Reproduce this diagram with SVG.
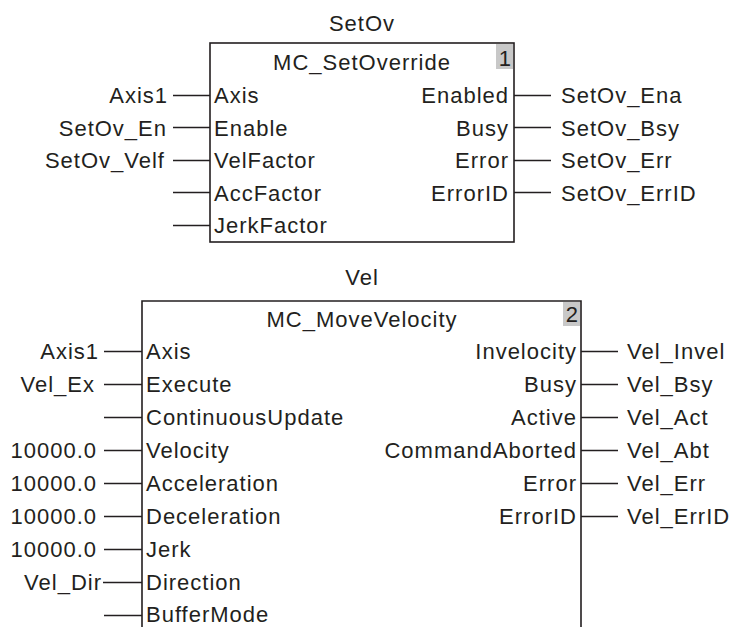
<svg xmlns="http://www.w3.org/2000/svg" width="729" height="627" viewBox="0 0 729 627">
<style>
text{font-family:"Liberation Sans",Arial,sans-serif;font-size:22px;fill:#231f20;letter-spacing:1px}
.m{text-anchor:middle}
.e{text-anchor:end}
.box{fill:#fff;stroke:#231f20;stroke-width:1.6}
.num{fill:#c8c8c8}
.w{stroke:#231f20;stroke-width:1.4;fill:none}
</style>
<rect width="729" height="627" fill="#fff"/>
<g id="node-setov">
<rect class="box" x="210" y="43" width="304" height="199"/>
<rect class="num" x="496" y="44" width="17" height="25"/>
<text class="e" x="512" y="66">1</text>
<text class="m" x="362" y="31">SetOv</text>
<text class="m" x="362" y="70">MC_SetOverride</text>
<text x="214" y="103">Axis</text>
<text x="214" y="136">Enable</text>
<text x="214" y="168">VelFactor</text>
<text x="214" y="201">AccFactor</text>
<text x="214" y="233">JerkFactor</text>
<text class="e" x="509" y="103">Enabled</text>
<text class="e" x="509" y="136">Busy</text>
<text class="e" x="509" y="168">Error</text>
<text class="e" x="509" y="201">ErrorID</text>
<text class="e" x="168" y="103">Axis1</text>
<text class="e" x="167" y="136">SetOv_En</text>
<text class="e" x="165" y="168">SetOv_Velf</text>
<text x="561" y="103">SetOv_Ena</text>
<text x="561" y="136">SetOv_Bsy</text>
<text x="561" y="168">SetOv_Err</text>
<text x="561" y="201">SetOv_ErrID</text>
</g>
<g id="node-vel">
<path class="box" d="M142,630 V301 H581 V630"/>
<rect class="num" x="563" y="302" width="17" height="24"/>
<text class="e" x="579" y="322">2</text>
<text class="m" x="362" y="285">Vel</text>
<text class="m" x="362" y="327">MC_MoveVelocity</text>
<text x="146" y="359">Axis</text>
<text x="146" y="392">Execute</text>
<text x="146" y="425">ContinuousUpdate</text>
<text x="146" y="458">Velocity</text>
<text x="146" y="491">Acceleration</text>
<text x="146" y="524">Deceleration</text>
<text x="146" y="557">Jerk</text>
<text x="146" y="590">Direction</text>
<text x="146" y="622">BufferMode</text>
<text class="e" x="577" y="359">Invelocity</text>
<text class="e" x="577" y="392">Busy</text>
<text class="e" x="577" y="425">Active</text>
<text class="e" x="577" y="458">CommandAborted</text>
<text class="e" x="577" y="491">Error</text>
<text class="e" x="577" y="524">ErrorID</text>
<text class="e" x="99" y="359">Axis1</text>
<text class="e" x="95" y="392">Vel_Ex</text>
<text class="e" x="97" y="458">10000.0</text>
<text class="e" x="97" y="491">10000.0</text>
<text class="e" x="97" y="524">10000.0</text>
<text class="e" x="97" y="557">10000.0</text>
<text class="e" x="102" y="590">Vel_Dir</text>
<text x="627" y="359">Vel_Invel</text>
<text x="627" y="392">Vel_Bsy</text>
<text x="627" y="425">Vel_Act</text>
<text x="627" y="458">Vel_Abt</text>
<text x="627" y="491">Vel_Err</text>
<text x="627" y="524">Vel_ErrID</text>
</g>
<g id="connectors">
<path class="w" d="M173,95.5H210M173,127.5H210M173,160.5H210M173,192.5H210M173,225.5H210"/>
<path class="w" d="M514,95.5H551M514,127.5H551M514,160.5H551M514,192.5H551"/>
<path class="w" d="M104,351.5H142M104,384.5H142M104,417.5H142M104,450.5H142M104,483.5H142M104,516.5H142M104,549.5H142M103,582.5H142M104,615.5H142"/>
<path class="w" d="M581,351.5H618M581,384.5H618M581,417.5H618M581,450.5H618M581,483.5H618M581,516.5H618"/>
</g>
</svg>
